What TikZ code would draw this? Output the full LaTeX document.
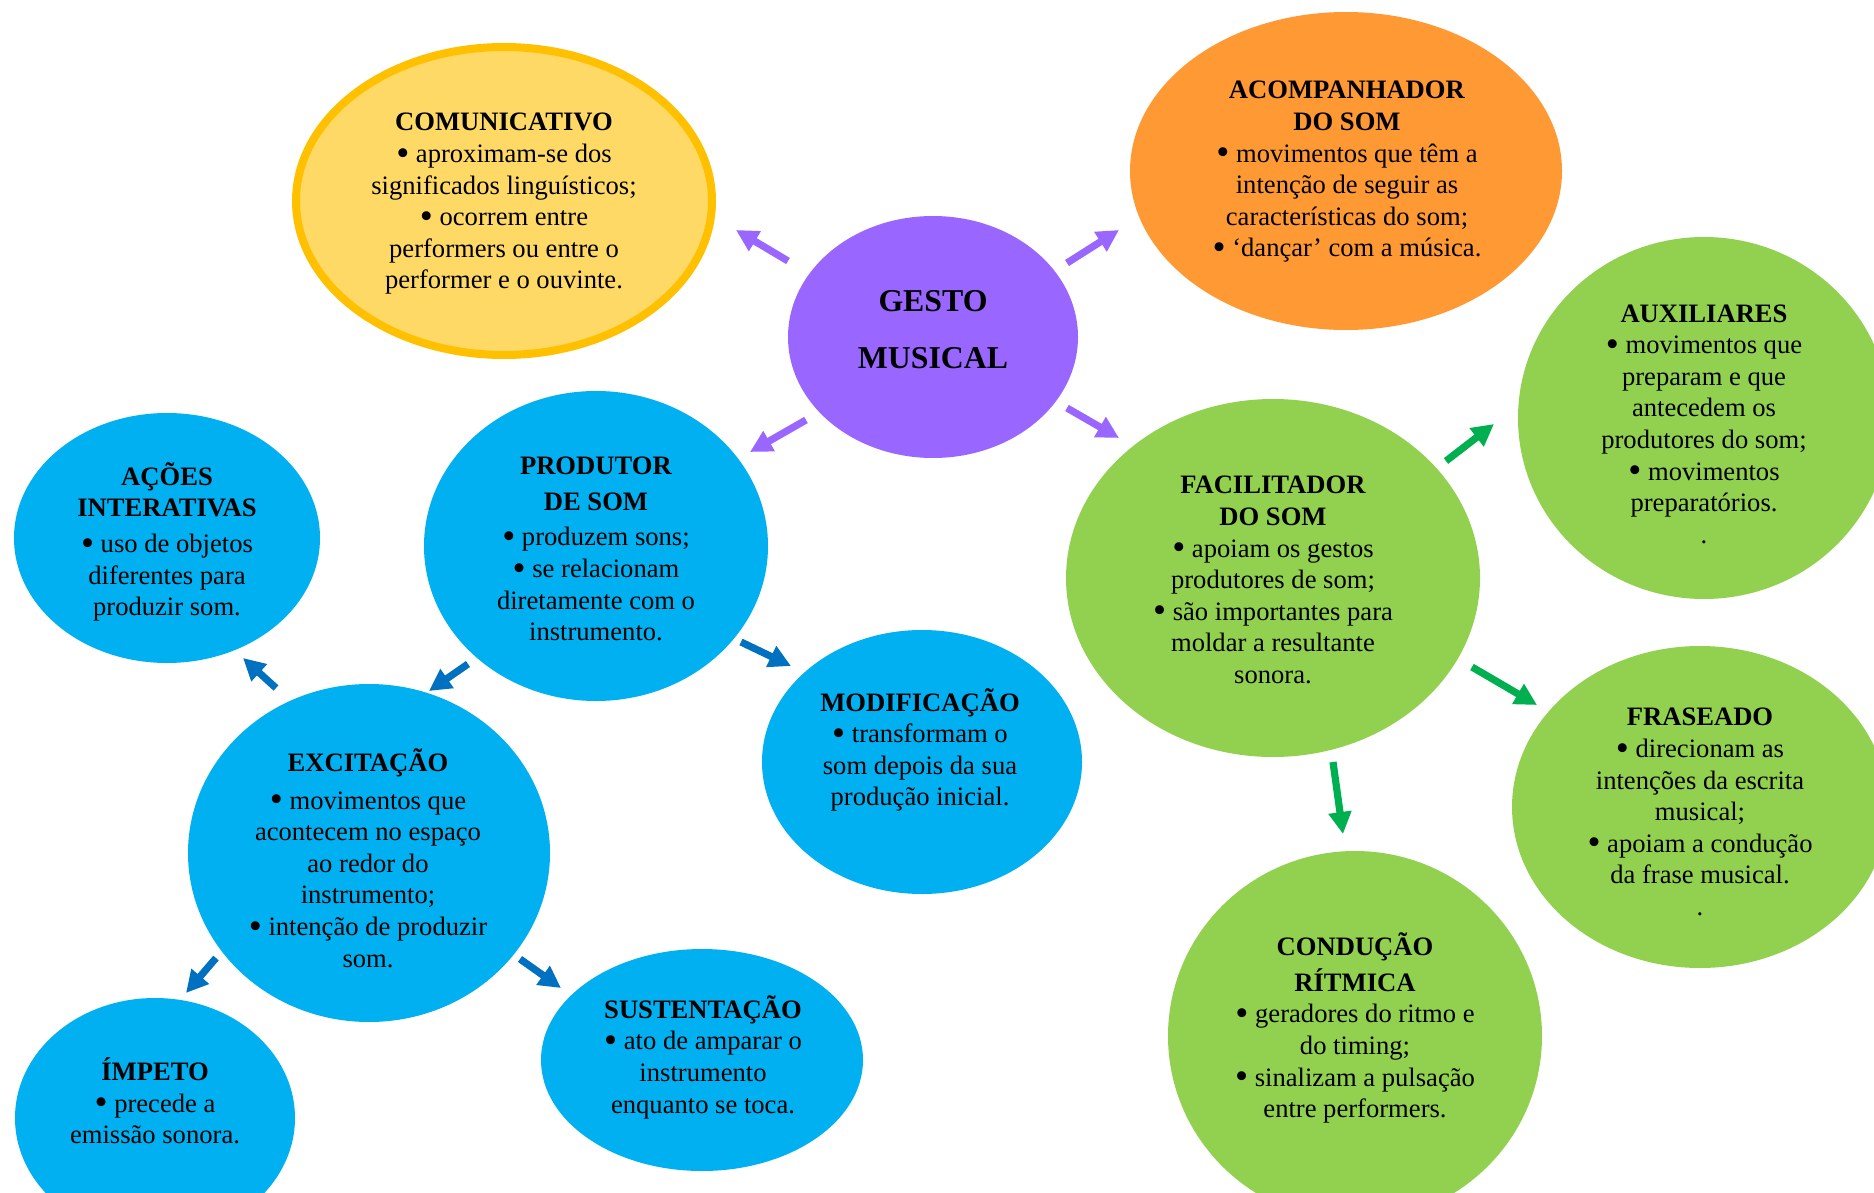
\documentclass[tikz,border=0pt]{standalone}
\usepackage{fontspec}
\setmainfont{Liberation Serif}
\usetikzlibrary{arrows.meta,shapes.geometric}

\definecolor{roxo}{HTML}{9966FF}
\definecolor{laranja}{HTML}{FF9933}
\definecolor{amarelo}{HTML}{FFD966}
\definecolor{amareloborda}{HTML}{FFC000}
\definecolor{azul}{HTML}{00B0F0}
\definecolor{azulseta}{HTML}{0070C0}
\definecolor{verde}{HTML}{92D050}
\definecolor{verdeseta}{HTML}{00B050}

% slightly larger bullet
\newcommand{\pontob}{\raisebox{-0.1em}{\scalebox{1.4}{•}}}

\tikzset{
  bubble/.style={ellipse, inner sep=0pt, draw=none},
  txt/.style={align=center, inner sep=0pt, font=\fontsize{13.3}{15.8}\selectfont},
  seta/.style={line width=3.6pt, -{Triangle[width=11pt,length=11pt]}}
}

\begin{document}
\begin{tikzpicture}[x=0.5pt,y=-0.5pt]
\useasboundingbox (0,0) rectangle (1874,1193);
\clip (0,0) rectangle (1874,1193);

% ---------- ellipses ----------
\node[bubble, fill=amarelo, draw=amareloborda, line width=4pt,
      minimum width=208pt, minimum height=154pt] (com) at (504,201) {};
\node[bubble, fill=roxo, minimum width=145pt, minimum height=121pt] (gesto) at (933,337) {};
\node[bubble, fill=laranja, minimum width=216pt, minimum height=159pt] (acomp) at (1346,171) {};
\node[bubble, fill=verde, minimum width=186pt, minimum height=181pt] (aux) at (1704,418) {};
\node[bubble, fill=verde, minimum width=207pt, minimum height=179pt] (facil) at (1273,578) {};
\node[bubble, fill=verde, minimum width=188pt, minimum height=161pt] (fras) at (1700,807) {};
\node[bubble, fill=verde, minimum width=187pt, minimum height=185pt] (cond) at (1355,1036) {};
\node[bubble, fill=azul, minimum width=172pt, minimum height=155pt] (prod) at (596,546) {};
\node[bubble, fill=azul, minimum width=153pt, minimum height=125pt] (acoes) at (167,538) {};
\node[bubble, fill=azul, minimum width=181pt, minimum height=169pt] (excit) at (369,853) {};
\node[bubble, fill=azul, minimum width=160pt, minimum height=132pt] (modif) at (922,762) {};
\node[bubble, fill=azul, minimum width=140pt, minimum height=120pt] (impeto) at (155,1118) {};
\node[bubble, fill=azul, minimum width=161pt, minimum height=111pt] (sust) at (702,1060) {};

% ---------- texts ----------
\node[txt] (comT) at (504,204) {\textbf{COMUNICATIVO}\\\pontob{} aproximam-se dos\\significados linguísticos;\\\pontob{} ocorrem entre\\performers ou entre o\\performer e o ouvinte.};
\node[txt, font=\fontsize{15.9}{28.5}\selectfont\bfseries] (gestoT) at (933,330) {GESTO\\MUSICAL};
\node[txt] (acompT) at (1347,172) {\textbf{ACOMPANHADOR}\\\textbf{DO SOM}\\\pontob{} movimentos que têm a\\intenção de seguir as\\características do som;\\\pontob{} ‘dançar’ com a música.};
\node[txt] (auxT) at (1704,424) {\textbf{AUXILIARES}\\\pontob{} movimentos que\\preparam e que\\antecedem os\\produtores do som;\\\pontob{} movimentos\\preparatórios.\\.};
\node[txt] (facilT) at (1273,580) {\textbf{FACILITADOR}\\\textbf{DO SOM}\\\pontob{} apoiam os gestos\\produtores de som;\\\pontob{} são importantes para\\moldar a resultante\\sonora.};
\node[txt] (frasT) at (1700,812) {\textbf{FRASEADO}\\\pontob{} direcionam as\\intenções da escrita\\musical;\\\pontob{} apoiam a condução\\da frase musical.\\.};
\node[txt] (condT) at (1355,1028) {\textbf{CONDUÇÃO}\\[2pt]\textbf{RÍTMICA}\\\pontob{} geradores do ritmo e\\do timing;\\\pontob{} sinalizam a pulsação\\entre performers.};
\node[txt] (prodT) at (596,549) {\textbf{PRODUTOR}\\[2pt]\textbf{DE SOM}\\[2pt]\pontob{} produzem sons;\\\pontob{} se relacionam\\diretamente com o\\instrumento.};
\node[txt] (acoesT) at (167,542) {\textbf{AÇÕES}\\\textbf{INTERATIVAS}\\[2pt]\pontob{} uso de objetos\\diferentes para\\produzir som.};
\node[txt] (excitT) at (368,858) {\textbf{EXCITAÇÃO}\\[3pt]\pontob{} movimentos que\\acontecem no espaço\\ao redor do\\instrumento;\\\pontob{} intenção de produzir\\som.};
\node[txt] (modifT) at (920,750) {\textbf{MODIFICAÇÃO}\\\pontob{} transformam o\\som depois da sua\\produção inicial.};
\node[txt] (impetoT) at (155,1101) {\textbf{ÍMPETO}\\\pontob{} precede a\\emissão sonora.};
\node[txt] (sustT) at (703,1057) {\textbf{SUSTENTAÇÃO}\\\pontob{} ato de amparar o\\instrumento\\enquanto se toca.};

% ---------- arrow end points ----------
\coordinate (g1a) at (788,261);  \coordinate (g1b) at (736,230);
\coordinate (g2a) at (1067,263); \coordinate (g2b) at (1119,230);
\coordinate (g3a) at (806,420);  \coordinate (g3b) at (750,452);
\coordinate (g4a) at (1067,408); \coordinate (g4b) at (1119,438);
\coordinate (p1a) at (468,664);  \coordinate (p1b) at (429,691);
\coordinate (p2a) at (741,642);  \coordinate (p2b) at (791,666);
\coordinate (e1a) at (276,688);  \coordinate (e1b) at (243,658);
\coordinate (e2a) at (216,958);  \coordinate (e2b) at (186,993);
\coordinate (e3a) at (520,959);  \coordinate (e3b) at (561,988);
\coordinate (f1a) at (1446,461); \coordinate (f1b) at (1494,424);
\coordinate (f2a) at (1472,667); \coordinate (f2b) at (1537,705);
\coordinate (f3a) at (1333,762); \coordinate (f3b) at (1343,834);

% ---------- arrows ----------
\draw[seta, roxo] (g1a) -- (g1b);
\draw[seta, roxo] (g2a) -- (g2b);
\draw[seta, roxo] (g3a) -- (g3b);
\draw[seta, roxo] (g4a) -- (g4b);
\draw[seta, azulseta] (p1a) -- (p1b);
\draw[seta, azulseta] (p2a) -- (p2b);
\draw[seta, azulseta] (e1a) -- (e1b);
\draw[seta, azulseta] (e2a) -- (e2b);
\draw[seta, azulseta] (e3a) -- (e3b);
\draw[seta, verdeseta] (f1a) -- (f1b);
\draw[seta, verdeseta] (f2a) -- (f2b);
\draw[seta, verdeseta] (f3a) -- (f3b);
\end{tikzpicture}
\end{document}
